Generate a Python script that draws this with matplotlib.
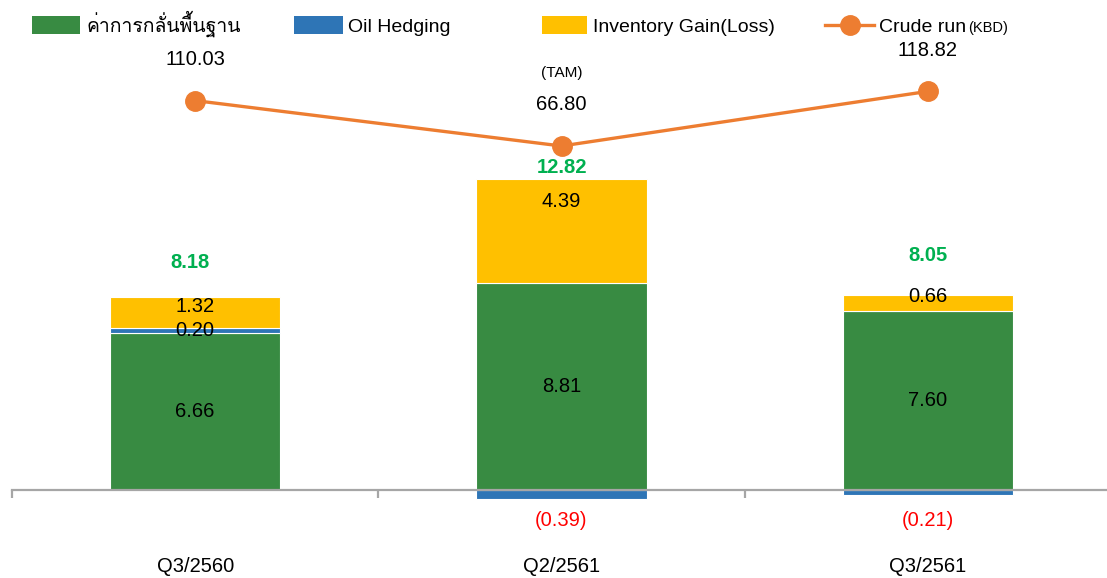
import matplotlib
matplotlib.use('Agg')
import matplotlib.pyplot as plt
from matplotlib import font_manager as fm
from matplotlib.ft2font import FT2Font
from matplotlib.patches import Rectangle
from matplotlib.lines import Line2D
import numpy as np

# ---------------- data ----------------
categories = ['Q3/2560', 'Q2/2561', 'Q3/2561']
base_margin = [6.66, 8.81, 7.60]
oil_hedging = [0.20, -0.39, -0.21]
inventory = [1.32, 4.39, 0.66]
totals = [8.18, 12.82, 8.05]
crude_run = [110.03, 66.80, 118.82]
crude_notes = ['', '(TAM)', '']
legend_labels = ['ค่าการกลั่นพื้นฐาน', 'Oil Hedging', 'Inventory Gain(Loss)', 'Crude run']

# ---------------- fonts ----------------
def find_thai_font():
    prefs = []
    for f in fm.fontManager.ttflist:
        try:
            ft = FT2Font(f.fname)
            if 0x0E01 in ft.get_charmap():
                prefs.append(f.name)
        except Exception:
            pass
    for p in prefs:
        if 'Sans' in p or 'Loma' in p or 'Garuda' in p:
            return p
    return prefs[0] if prefs else None

thai = find_thai_font()
FAM = ['Liberation Sans', 'DejaVu Sans']
THAI_FAM = ([thai] if thai else []) + ['Liberation Sans', 'DejaVu Sans']
plt.rcParams['font.family'] = FAM

GREEN = '#388B42'
BLUE = '#2E75B6'
YELLOW = '#FFC000'
ORANGE = '#ED7D31'
LBL_GREEN = '#00B050'

W, H = 1107, 578
fig = plt.figure(figsize=(W / 100, H / 100), dpi=100)

# axes: x from px 12 to 1111, y from px 40 (top) to 540 (bottom)
ax_left, ax_right = 12, 1111
ax_top, ax_bot = 40, 540
ax = fig.add_axes([ax_left / W, 1 - ax_bot / H, (ax_right - ax_left) / W, (ax_bot - ax_top) / H])

ppu = 23.55  # px per unit
zero_px = 490
y0 = -(ax_bot - zero_px) / ppu
y1 = (zero_px - ax_top) / ppu
ax.set_ylim(y0, y1)
ax.set_xlim(-0.5, 2.5)

x = np.arange(len(categories))
bw = 0.465
base = np.array(base_margin)
hedge = np.array(oil_hedging)
inv = np.array(inventory)
hedge_bottom = np.where(hedge >= 0, base, 0)
inv_bottom = base + np.clip(hedge, 0, None)

ax.bar(x, base, bw, color=GREEN, edgecolor='white', linewidth=0.8, zorder=2)
ax.bar(x, hedge, bw, bottom=hedge_bottom, color=BLUE, edgecolor='white', linewidth=0.8, zorder=2)
ax.bar(x, inv, bw, bottom=inv_bottom, color=YELLOW, edgecolor='white', linewidth=0.8, zorder=2)

for s in ['top', 'right', 'left']:
    ax.spines[s].set_visible(False)
ax.spines['bottom'].set_position(('data', 0))
ax.spines['bottom'].set_color('#A6A6A6')
ax.spines['bottom'].set_linewidth(1.6)
ax.spines['bottom'].set_zorder(3)
ax.set_yticks([])
ax.set_xticks(x)
FS = 14.5
ax.set_xticklabels(categories, fontsize=FS)
ax.tick_params(axis='x', which='major', length=0, pad=48.5)
ax.set_xticks([-0.5, 0.5, 1.5, 2.5], minor=True)
ax.tick_params(axis='x', which='minor', length=6, width=1.6, color='#A6A6A6', direction='out')

# segment labels
for i in range(3):
    ax.text(x[i], base[i] / 2, f'{base[i]:.2f}', ha='center', va='center', fontsize=FS, zorder=5)
    if hedge[i] >= 0:
        ax.text(x[i], hedge_bottom[i] + hedge[i] / 2, f'{hedge[i]:.2f}', ha='center', va='center', fontsize=FS, zorder=5)
    else:
        ax.text(x[i], -30 / ppu, f'({abs(hedge[i]):.2f})', ha='center', va='center', fontsize=FS, color='red', zorder=5)

inv_label_offsets = [9, 22, 1]  # px below the top of the yellow segment
for i in range(3):
    top = inv_bottom[i] + inv[i]
    ax.text(x[i], top - inv_label_offsets[i] / ppu, f'{inv[i]:.2f}', ha='center', va='center', fontsize=FS, zorder=5)

total_offsets = [35, 12, 40]  # px above the top of the stack
for i in range(3):
    top = inv_bottom[i] + inv[i]
    ax.text(x[i] - (0.015 if i == 0 else 0), top + total_offsets[i] / ppu, f'{totals[i]:.2f}', ha='center',
            va='center', fontsize=FS, color=LBL_GREEN, fontweight='bold', zorder=5)

# secondary axis for crude run
ax2 = ax.twinx()
ax2.set_position(ax.get_position())
k = 1.05
a_px = 146 + 66.80 * k
ax2.set_ylim((a_px - ax_bot) / k, (a_px - ax_top) / k)
ax2.set_xlim(-0.5, 2.5)
ax2.axis('off')
ax2.plot(x, crude_run, color=ORANGE, linewidth=2.4, marker='o', markersize=14, zorder=4)
for i in range(3):
    ax2.text(x[i], crude_run[i] + 41 / k, f'{crude_run[i]:.2f}', ha='center', va='center', fontsize=FS)
    if crude_notes[i]:
        ax2.text(x[i], crude_run[i] + 73 / k, crude_notes[i], ha='center', va='center', fontsize=11)

# ---------------- legend (manual) ----------------
LFS = 14
ly = 1 - 25 / H
lb = 1 - 32 / H  # text baseline
ph = 18 / H
def patch(x0, x1, c):
    fig.patches.append(Rectangle((x0 / W, ly - ph / 2), (x1 - x0) / W, ph, transform=fig.transFigure,
                                 facecolor=c, edgecolor='none'))
patch(32, 80, GREEN)
fig.text(86 / W, lb, legend_labels[0], fontsize=LFS, va='baseline', ha='left', family=THAI_FAM)
patch(294, 343, BLUE)
fig.text(348 / W, lb, legend_labels[1], fontsize=LFS, va='baseline', ha='left')
patch(542, 587, YELLOW)
fig.text(593 / W, lb, legend_labels[2], fontsize=LFS, va='baseline', ha='left')
fig.lines.append(Line2D([825 / W, 874 / W], [ly, ly], transform=fig.transFigure, color=ORANGE, linewidth=2.4))
fig.lines.append(Line2D([850 / W], [ly], transform=fig.transFigure, color=ORANGE, marker='o', markersize=14))
fig.text(879 / W, lb, legend_labels[3], fontsize=LFS, va='baseline', ha='left')
fig.text(968 / W, lb, '(KBD)', fontsize=10.5, va='baseline', ha='left')

fig.savefig('out.png', dpi=100)
